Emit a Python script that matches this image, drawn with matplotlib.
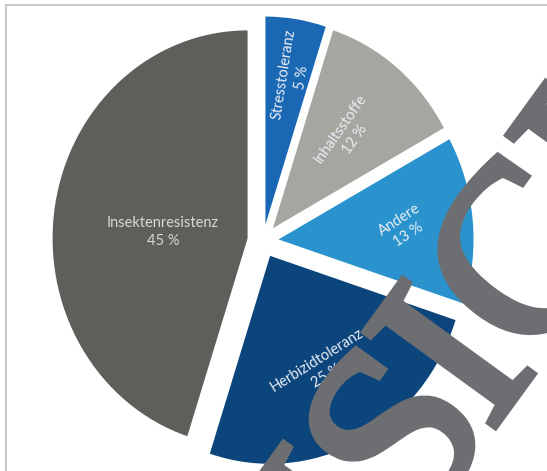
import matplotlib
matplotlib.use('Agg')
import matplotlib.pyplot as plt
from matplotlib.lines import Line2D
from matplotlib.patches import PathPatch
from matplotlib.textpath import TextPath
from matplotlib.font_manager import FontProperties, findfont, get_font
from matplotlib.transforms import Affine2D, IdentityTransform

# data
labels = ['Stresstoleranz', 'Inhaltsstoffe', 'Andere', 'Herbizidtoleranz', 'Insektenresistenz']
shares = [5, 12, 13, 25, 45]
colors = ['#1a68b4', '#a6a5a0', '#2a93cd', '#0b457c', '#5f5e5a']
label_rot = [81, 55, 33, 32, 0]

W, H = 547, 471
fig = plt.figure(figsize=(W / 100, H / 100), dpi=100)
ax = fig.add_axes([0, 0, 1, 1])

# pie centre and radii in pixels (the picture is a bit stretched vertically)
cx, cy = 263, 241
rx, ry = 195, 208

wedges, _ = ax.pie(shares, colors=colors, startangle=90, counterclock=False,
                   explode=[0.08] * len(shares), radius=1, center=(0, 0),
                   wedgeprops=dict(linewidth=0))
ax.set_aspect('auto')
ax.set_xlim(-cx / rx, (W - cx) / rx)
ax.set_ylim((cy - H) / ry, cy / ry)
ax.axis('off')

# label centres (pixels)
label_pos = [(293, 76), (348, 134), (404, 227), (322, 368), (163, 232)]
for lab, s, rot, (px, py), c in zip(labels, shares, label_rot, label_pos, colors):
    tc = '#d9d8d4' if c == '#5f5e5a' else '#e9eef4'
    ax.text((px - cx) / rx, (cy - py) / ry, '%s\n%d %%' % (lab, s),
            ha='center', va='center', rotation=rot, rotation_mode='anchor',
            fontsize=10.5, family='Lato', color=tc, linespacing=1.35)

# frame
fig.add_artist(Line2D([6 / W, 1], [1 - 5 / H, 1 - 5 / H], color='#c9c9cd', lw=1.5))
fig.add_artist(Line2D([6 / W, 6 / W], [0, 1 - 5 / H], color='#c9c9cd', lw=1.5))

# watermark: serif word laid diagonally across the chart, letter by letter
mark = 'ANSICHT'
gaps = [0, 0, 0, -12, 0, 0, 0]   # extra space before each letter
fp = FontProperties(family='Liberation Serif')
em = 245
font = get_font(findfont(fp))
font.set_size(em, 72)
adv = [font.load_char(ord(ch)).linearHoriAdvance / 65536 for ch in mark]

xs = []
pos = 0
for a, g in zip(adv, gaps):
    pos += g
    xs.append(pos)
    pos += a
k = mark.index('I')
i_box = TextPath((0, 0), 'I', size=em, prop=fp).get_extents()
anchor_x = xs[k] + adv[k] / 2
anchor_y = (i_box.y0 + i_box.y1) / 2
tr = (Affine2D().translate(-anchor_x, -anchor_y).rotate_deg(54)
      .translate(449, H - 353))
for ch, x0 in zip(mark, xs):
    p = TextPath((x0, 0), ch, size=em, prop=fp)
    fig.add_artist(PathPatch(tr.transform_path(p), transform=IdentityTransform(),
                             facecolor='#6d6e72', edgecolor='#6d6e72', lw=5.5,
                             joinstyle='miter', zorder=10))

fig.savefig('out.png', dpi=100)
